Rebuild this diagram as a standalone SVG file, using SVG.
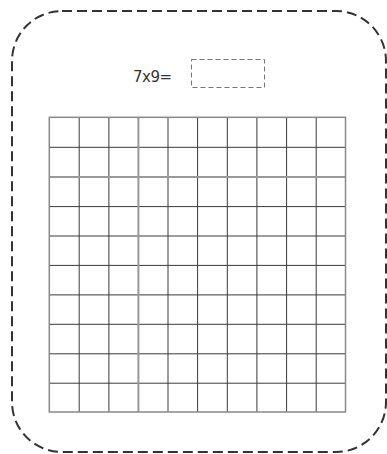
<svg xmlns="http://www.w3.org/2000/svg" width="387" height="454" viewBox="0 0 387 454">
<style>
.frame{fill:none;stroke:#333;stroke-width:2;stroke-dasharray:10,5}
.answer{fill:none;stroke:#777;stroke-width:1;stroke-dasharray:5,3}
.lbl{font-family:"DejaVu Sans",sans-serif;font-size:15px;fill:#333;letter-spacing:-0.5px}
.in{stroke:#3a3a3a;stroke-width:1;fill:none}
.soft{stroke:#999;stroke-width:2;fill:none}
.edge{stroke:#888;stroke-width:1.5;fill:none}
</style>
<rect width="387" height="454" fill="#fff"/>
<g id="frame"><rect class="frame" x="12" y="11" width="374" height="441" rx="50" ry="50"/></g>
<g id="question">
<text class="lbl" x="133" y="81.5">7x9=</text>
<rect class="answer" x="191.5" y="59.5" width="73" height="28"/>
</g>
<g id="grid">
<path class="in" d="M79.2 117.3V412M108.9 117.3V412M168 117.3V412M197.6 117.3V412M227.3 117.3V412M256.9 117.3V412M286.6 117.3V412M316.2 117.3V412"/>
<path class="in" d="M49.3 147.3H345.5M49.3 206.6H345.5M49.3 236H345.5M49.3 265.4H345.5M49.3 294.9H345.5M49.3 324.3H345.5M49.3 353.8H345.5M49.3 383.2H345.5"/>
<path class="soft" d="M138.4 117.3V412M49.3 177H345.5"/>
<rect class="edge" x="49.3" y="117.3" width="296.2" height="294.7"/>
</g>
</svg>
